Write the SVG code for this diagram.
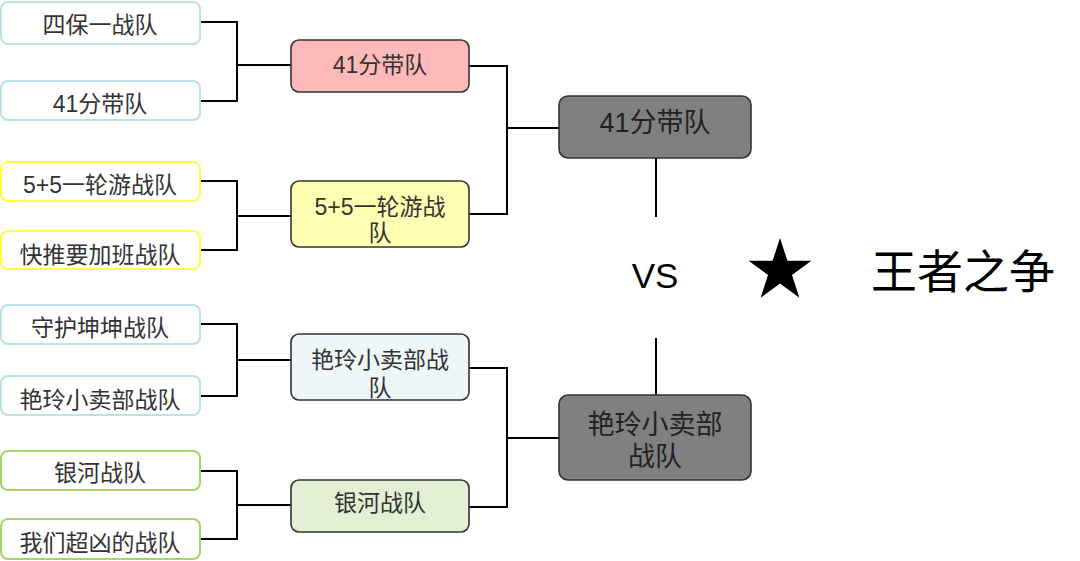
<svg xmlns="http://www.w3.org/2000/svg" width="1080" height="561" viewBox="0 0 1080 561">
<style>
text{font-family:"Liberation Sans","Noto Sans CJK SC",sans-serif;fill:#333;text-anchor:middle}
.t{font-size:23px}
.f{font-size:27px;fill:#222}
.leaf{fill:#fff;stroke-width:2}
.blue{stroke:#bfe0e6}
.yel{stroke:#ffff40}
.grn{stroke:#a5d46a}
.mid{stroke:#333;stroke-width:1.6}
.fin{fill:#808080;stroke:#333;stroke-width:1.6}
.c{fill:none;stroke:#000;stroke-width:2}
</style>
<g id="connectors">
<polyline class="c" points="200,22 237,22 237,101 200,101"/>
<line class="c" x1="237" y1="65" x2="291" y2="65"/>
<polyline class="c" points="200,181 237,181 237,250 200,250"/>
<line class="c" x1="237" y1="216" x2="291" y2="216"/>
<polyline class="c" points="200,324 237,324 237,396 200,396"/>
<line class="c" x1="237" y1="360" x2="291" y2="360"/>
<polyline class="c" points="200,471 237,471 237,539 200,539"/>
<line class="c" x1="237" y1="505" x2="291" y2="505"/>
<polyline class="c" points="469,66 507,66 507,214 469,214"/>
<line class="c" x1="507" y1="128" x2="559" y2="128"/>
<polyline class="c" points="469,368 507,368 507,507 469,507"/>
<line class="c" x1="507" y1="438" x2="559" y2="438"/>
<line class="c" x1="656" y1="158" x2="656" y2="217"/>
<line class="c" x1="656" y1="338" x2="656" y2="395"/>
</g>
<g id="n1"><rect class="leaf blue" x="1" y="2" width="199" height="42" rx="7"/><text class="t" x="100" y="33">四保一战队</text></g>
<g id="n2"><rect class="leaf blue" x="1" y="81" width="199" height="39" rx="7"/><text class="t" x="100" y="112">41分带队</text></g>
<g id="n3"><rect class="leaf yel" x="1" y="162" width="199" height="39" rx="7"/><text class="t" x="100" y="193">5+5一轮游战队</text></g>
<g id="n4"><rect class="leaf yel" x="1" y="231" width="199" height="38" rx="7"/><text class="t" x="100" y="263">快推要加班战队</text></g>
<g id="n5"><rect class="leaf blue" x="1" y="305" width="199" height="39" rx="7"/><text class="t" x="100" y="336">守护坤坤战队</text></g>
<g id="n6"><rect class="leaf blue" x="1" y="376" width="199" height="39" rx="7"/><text class="t" x="100" y="408">艳玲小卖部战队</text></g>
<g id="n7"><rect class="leaf grn" x="1" y="451" width="199" height="39" rx="7"/><text class="t" x="100" y="481">银河战队</text></g>
<g id="n8"><rect class="leaf grn" x="1" y="519" width="199" height="40" rx="7"/><text class="t" x="100" y="551">我们超凶的战队</text></g>
<g id="m1"><rect class="mid" fill="#ffb9b9" x="291" y="40" width="178" height="52" rx="8"/><text class="t" x="380" y="73">41分带队</text></g>
<g id="m2"><rect class="mid" fill="#ffffb4" x="291" y="181" width="178" height="66" rx="8"/><text class="t" x="380" y="215">5+5一轮游战</text><text class="t" x="380" y="241">队</text></g>
<g id="m3"><rect class="mid" fill="#eef6f8" x="291" y="334" width="178" height="66" rx="8"/><text class="t" x="380" y="368">艳玲小卖部战</text><text class="t" x="380" y="396">队</text></g>
<g id="m4"><rect class="mid" fill="#e2efd2" x="291" y="480" width="178" height="52" rx="8"/><text class="t" x="380" y="511">银河战队</text></g>
<g id="f1"><rect class="fin" x="559" y="96" width="192" height="62" rx="9"/><text class="f" x="655" y="132">41分带队</text></g>
<g id="f2"><rect class="fin" x="559" y="395" width="192" height="85" rx="9"/><text class="f" x="655" y="434">艳玲小卖部</text><text class="f" x="655" y="466">战队</text></g>
<g id="title">
<text x="655" y="288" style="font-size:35px;fill:#000">VS</text>
<polygon fill="#000" points="780,238 787.4,260.8 811.4,260.8 792,274.9 799.4,297.7 780,283.6 760.6,297.7 768,274.9 748.6,260.8 772.6,260.8"/>
<text x="963" y="288" style="font-size:46px;fill:#000">王者之争</text>
</g>
</svg>
